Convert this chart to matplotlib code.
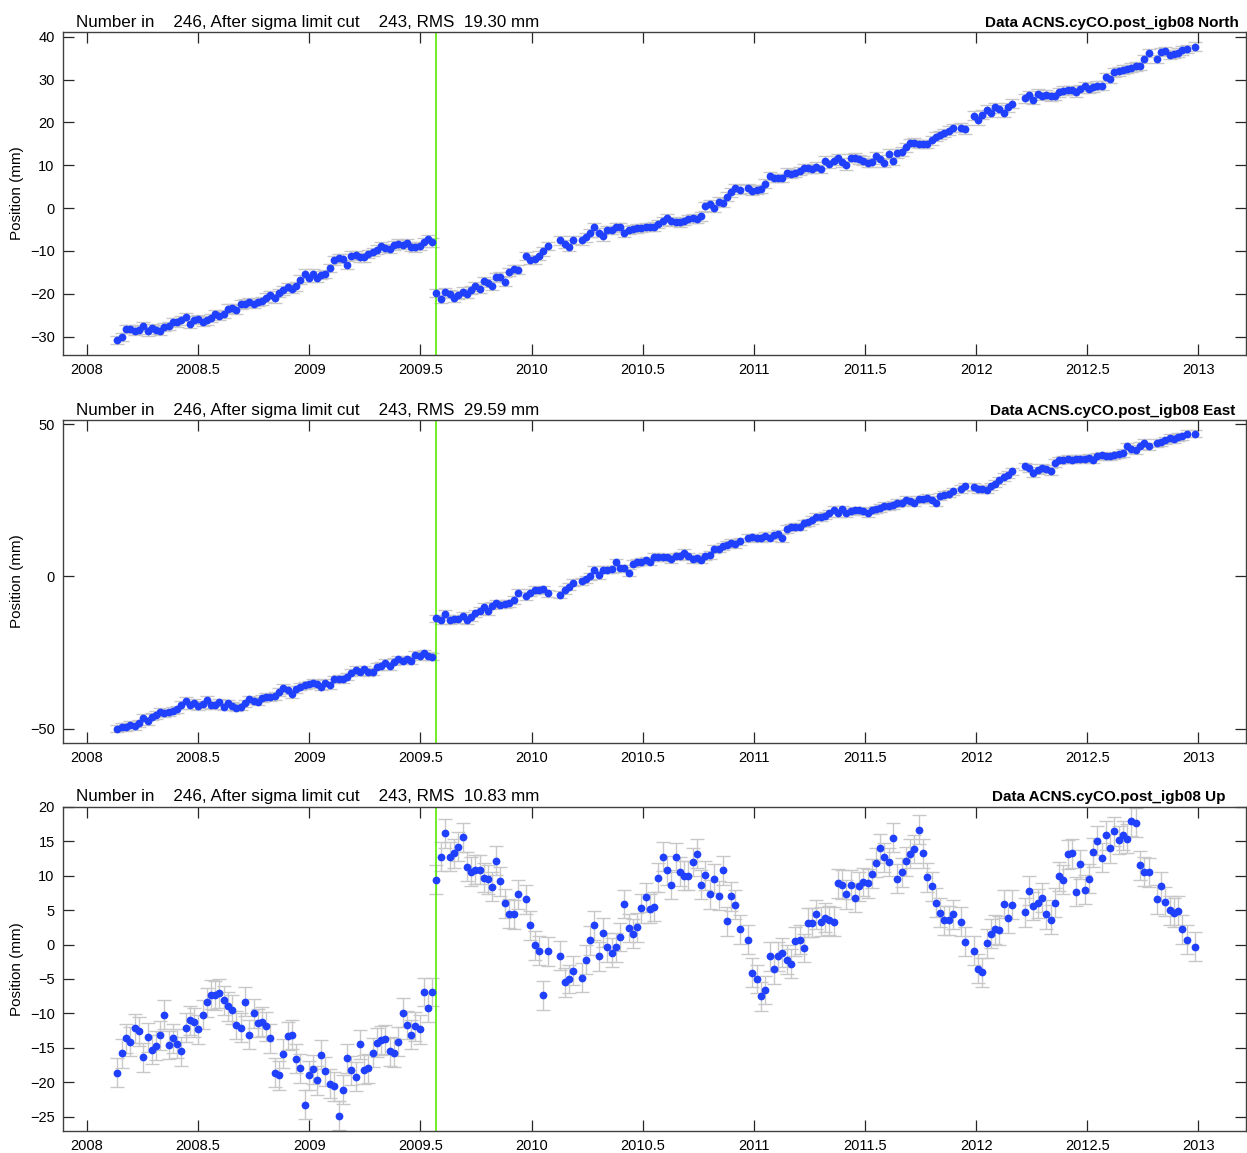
import numpy as np
import matplotlib
matplotlib.use("Agg")
import matplotlib.pyplot as plt

plt.rcParams['font.family'] = ['Liberation Sans', 'DejaVu Sans']

# epochs (decimal year) shared by the three components
epochs = [
    2008.136, 2008.156, 2008.175, 2008.195, 2008.214, 2008.234, 2008.253, 2008.273, 2008.291, 2008.310,
    2008.328, 2008.348, 2008.367, 2008.387, 2008.405, 2008.424, 2008.444, 2008.462, 2008.481, 2008.501,
    2008.520, 2008.538, 2008.556, 2008.576, 2008.595, 2008.615, 2008.634, 2008.654, 2008.672, 2008.691,
    2008.711, 2008.730, 2008.750, 2008.769, 2008.787, 2008.807, 2008.825, 2008.844, 2008.864, 2008.883,
    2008.903, 2008.922, 2008.940, 2008.960, 2008.979, 2008.999, 2009.018, 2009.036, 2009.055, 2009.073,
    2009.093, 2009.112, 2009.132, 2009.151, 2009.169, 2009.189, 2009.208, 2009.228, 2009.246, 2009.265,
    2009.285, 2009.303, 2009.322, 2009.342, 2009.361, 2009.381, 2009.400, 2009.420, 2009.438, 2009.457,
    2009.477, 2009.496, 2009.516, 2009.534, 2009.553,
    2009.571, 2009.591, 2009.612, 2009.631, 2009.651, 2009.670, 2009.690, 2009.708, 2009.727, 2009.747,
    2009.766, 2009.784, 2009.803, 2009.823, 2009.842, 2009.860, 2009.880, 2009.898, 2009.919, 2009.937,
    2009.976, 2009.995, 2010.015, 2010.033, 2010.053, 2010.072, 2010.129, 2010.149, 2010.168, 2010.188,
    2010.225, 2010.245, 2010.264, 2010.282, 2010.302, 2010.321, 2010.341, 2010.360, 2010.380, 2010.398,
    2010.417, 2010.437, 2010.456, 2010.476, 2010.494, 2010.514, 2010.533, 2010.553, 2010.571, 2010.592,
    2010.610, 2010.629, 2010.649, 2010.667, 2010.686, 2010.706, 2010.725, 2010.743, 2010.763, 2010.782,
    2010.802, 2010.821, 2010.841, 2010.859, 2010.878, 2010.898, 2010.917, 2010.937, 2010.974, 2010.993,
    2011.012, 2011.030, 2011.051, 2011.071, 2011.090, 2011.108, 2011.128, 2011.147, 2011.167, 2011.186,
    2011.206, 2011.225, 2011.242, 2011.263, 2011.281, 2011.300, 2011.320, 2011.339, 2011.359, 2011.377,
    2011.398, 2011.416, 2011.436, 2011.454, 2011.473, 2011.493, 2011.512, 2011.530, 2011.549, 2011.569,
    2011.587, 2011.606, 2011.626, 2011.645, 2011.665, 2011.683, 2011.702, 2011.722, 2011.741, 2011.761,
    2011.780, 2011.800, 2011.818, 2011.837, 2011.857, 2011.876, 2011.894, 2011.933, 2011.951, 2011.990,
    2012.008, 2012.028, 2012.047, 2012.067, 2012.086, 2012.104, 2012.124, 2012.143, 2012.161, 2012.220,
    2012.239, 2012.257, 2012.277, 2012.296, 2012.316, 2012.335, 2012.353, 2012.373, 2012.392, 2012.412,
    2012.430, 2012.449, 2012.469, 2012.488, 2012.506, 2012.525, 2012.545, 2012.564, 2012.582, 2012.602,
    2012.621, 2012.641, 2012.659, 2012.678, 2012.698, 2012.717, 2012.737, 2012.756, 2012.776, 2012.813,
    2012.831, 2012.851, 2012.870, 2012.888, 2012.908, 2012.927, 2012.947, 2012.984,
]

north = [
    -30.8, -30.1, -28.2, -28.2, -28.6, -28.4, -27.6, -28.8, -28.0, -28.4,
    -28.6, -27.8, -27.5, -26.6, -26.7, -26.2, -25.4, -27.0, -26.1, -25.9,
    -26.5, -26.2, -25.7, -24.7, -25.1, -24.7, -23.5, -23.3, -23.7, -22.5,
    -22.3, -22.0, -22.3, -21.9, -21.7, -20.9, -20.3, -21.1, -19.8, -19.2,
    -18.4, -18.8, -18.3, -16.7, -15.3, -16.3, -15.3, -16.3, -15.6, -15.4,
    -14.0, -12.2, -11.7, -11.8, -13.3, -11.1, -11.0, -11.5, -11.5, -10.7,
    -10.3, -9.7, -8.9, -9.3, -9.6, -8.7, -8.3, -8.5, -8.2, -9.0,
    -9.2, -8.8, -8.0, -7.2, -8.0,
    -19.8, -21.2, -19.7, -20.1, -20.9, -20.3, -19.5, -20.0, -19.1, -18.3,
    -18.8, -17.0, -17.5, -18.1, -16.2, -16.0, -17.2, -14.9, -14.2, -14.4,
    -11.2, -12.1, -12.0, -11.1, -10.1, -8.9, -7.5, -8.4, -9.1, -7.4,
    -7.5, -6.8, -5.8, -4.5, -5.7, -6.6, -5.1, -5.1, -4.5, -4.4,
    -5.8, -5.1, -4.9, -4.7, -4.6, -4.4, -4.4, -4.3, -3.7, -3.1,
    -2.3, -3.0, -3.2, -3.3, -3.0, -2.5, -2.4, -2.5, -1.9, 0.4,
    1.0, 0.1, 1.5, 1.3, 2.7, 3.7, 4.7, 4.3, 4.6, 4.1,
    4.3, 4.5, 5.7, 7.5, 7.0, 7.0, 7.0, 8.3, 8.0, 8.2,
    8.7, 9.3, 9.3, 9.1, 9.7, 9.1, 11.1, 10.3, 11.1, 11.6,
    10.7, 10.0, 11.7, 11.8, 11.4, 11.1, 10.5, 10.7, 12.1, 11.4,
    10.5, 12.7, 11.0, 12.8, 13.2, 14.2, 15.2, 15.3, 15.0, 15.0,
    15.0, 15.8, 16.7, 17.1, 17.5, 18.1, 18.7, 18.8, 18.4, 21.6,
    20.5, 21.8, 23.0, 22.3, 23.6, 23.1, 22.3, 23.5, 24.4, 25.6,
    26.3, 25.3, 26.7, 26.2, 26.5, 26.1, 26.2, 27.0, 27.4, 27.6,
    27.5, 27.0, 27.8, 28.4, 27.8, 28.2, 28.6, 28.6, 30.6, 30.1,
    31.7, 31.9, 32.3, 32.5, 32.8, 33.1, 33.2, 34.8, 36.2, 34.8,
    36.4, 36.7, 35.8, 36.0, 36.3, 36.8, 37.1, 37.7,
]

east = [
    -50.0, -49.4, -49.4, -48.7, -49.2, -48.2, -46.4, -47.5, -46.1, -45.5,
    -44.5, -45.0, -44.6, -44.1, -43.6, -42.2, -40.8, -42.2, -41.4, -42.5,
    -42.0, -40.6, -42.2, -42.2, -41.3, -42.8, -41.7, -42.5, -43.1, -42.8,
    -41.7, -40.4, -40.8, -41.1, -40.0, -39.5, -39.7, -39.3, -37.9, -36.6,
    -37.3, -38.6, -37.1, -36.2, -35.7, -35.4, -34.9, -35.3, -36.2, -34.9,
    -35.7, -33.8, -33.6, -33.7, -32.9, -31.6, -30.7, -31.3, -30.5, -31.4,
    -31.3, -29.6, -29.4, -28.3, -29.4, -28.0, -27.2, -27.6, -27.2, -27.6,
    -25.7, -26.1, -25.2, -26.1, -26.3,
    -13.7, -14.3, -12.3, -14.3, -14.0, -14.0, -12.9, -14.3, -13.4, -12.1,
    -11.2, -9.9, -11.5, -9.6, -8.8, -9.3, -9.0, -8.8, -7.7, -5.3,
    -6.4, -5.3, -4.4, -4.6, -4.2, -5.5, -6.0, -4.4, -3.3, -2.0,
    -1.6, -0.9, 0.0, 2.2, 0.5, 2.2, 2.2, 2.4, 4.6, 2.7,
    2.7, 1.3, 4.2, 4.6, 4.9, 5.3, 4.9, 6.4, 6.4, 6.3,
    6.3, 5.7, 6.6, 6.8, 7.7, 6.6, 5.7, 6.0, 5.5, 6.6,
    7.1, 9.0, 9.1, 9.9, 10.4, 11.0, 10.7, 11.5, 12.6, 12.9,
    12.8, 12.6, 13.4, 12.8, 13.5, 14.0, 12.6, 15.6, 16.2, 16.4,
    16.4, 17.5, 17.8, 18.6, 19.5, 19.4, 20.0, 20.8, 21.9, 20.8,
    22.1, 20.8, 21.4, 21.7, 21.7, 21.4, 20.8, 21.7, 22.1, 22.5,
    23.2, 23.0, 23.5, 24.1, 24.3, 25.2, 24.7, 24.3, 25.4, 25.4,
    25.8, 25.2, 24.3, 26.3, 26.9, 27.2, 28.0, 28.7, 29.6, 29.4,
    28.7, 28.7, 28.5, 29.6, 30.5, 31.6, 32.7, 33.4, 34.5, 36.2,
    35.6, 34.0, 34.9, 35.6, 35.3, 34.5, 37.3, 38.2, 38.4, 38.6,
    38.4, 38.6, 38.7, 38.6, 39.0, 38.4, 39.5, 39.8, 39.5, 39.5,
    39.8, 40.1, 40.6, 42.8, 41.9, 41.4, 43.0, 43.9, 42.8, 43.9,
    44.1, 44.7, 45.5, 45.2, 45.8, 46.1, 46.9, 46.9,
]

up = [
    -18.6, -15.8, -13.6, -14.1, -12.2, -12.6, -16.4, -13.5, -15.3, -14.7,
    -13.2, -10.2, -14.6, -13.6, -14.4, -15.5, -12.1, -11.0, -11.3, -12.3,
    -10.2, -8.4, -7.3, -7.4, -7.1, -8.1, -9.0, -9.5, -11.7, -12.1,
    -8.3, -13.1, -10.0, -11.4, -11.2, -11.9, -13.6, -18.6, -19.0, -15.9,
    -13.3, -13.1, -16.6, -18.0, -23.3, -19.0, -18.1, -19.7, -16.0, -18.4,
    -20.2, -20.6, -24.9, -21.1, -16.5, -18.3, -19.2, -14.5, -18.2, -18.0,
    -15.7, -14.3, -13.9, -13.8, -15.5, -15.7, -14.1, -9.9, -11.7, -13.1,
    -11.9, -12.3, -6.9, -9.2, -6.9,
    9.4, 12.8, 16.2, 12.8, 13.3, 14.2, 15.6, 11.3, 10.6, 10.9,
    10.9, 9.7, 9.5, 8.4, 12.2, 9.2, 6.0, 4.5, 4.4, 7.3,
    6.6, 2.8, -0.1, -0.9, -7.4, -1.0, -1.6, -5.5, -5.0, -3.8,
    -4.8, -2.2, 0.6, 2.8, -1.7, 1.7, -0.4, -1.2, -0.4, 1.1,
    5.9, 2.4, 1.6, 2.5, 5.3, 6.9, 5.2, 5.5, 9.7, 12.8,
    10.8, 8.7, 12.7, 10.6, 10.0, 10.0, 12.0, 13.2, 8.7, 10.1,
    7.3, 9.6, 7.1, 10.8, 3.4, 7.0, 5.8, 2.2, 0.7, -4.1,
    -5.0, -7.5, -6.6, -1.7, -3.6, -1.7, -1.2, -2.2, -2.8, 0.5,
    0.7, -0.5, 3.2, 3.2, 4.4, 3.3, 3.9, 3.5, 3.3, 8.9,
    8.7, 7.3, 8.7, 6.8, 8.5, 9.1, 8.9, 10.3, 11.9, 14.0,
    12.7, 12.0, 15.5, 9.6, 10.5, 12.1, 13.2, 13.9, 16.7, 13.3,
    9.8, 8.5, 6.1, 4.6, 3.5, 3.5, 4.4, 3.3, 0.4, -0.9,
    -3.5, -4.0, 0.2, 1.6, 2.2, 2.1, 5.9, 3.8, 5.8, 4.7,
    7.8, 5.6, 6.0, 6.8, 4.4, 3.6, 6.1, 9.9, 9.4, 13.1,
    13.3, 7.7, 11.7, 8.0, 9.6, 13.4, 15.1, 12.6, 15.9, 14.0,
    16.5, 15.2, 15.9, 15.4, 17.9, 17.7, 11.5, 10.6, 10.5, 6.6,
    8.5, 6.2, 5.0, 4.6, 4.9, 2.2, 0.7, -0.3,
]

# one-sigma error bar sizes (mm)
sig_north = 1.0
sig_east = 1.2
sig_up = 2.1

break_epoch = 2009.570
components = ['North', 'East', 'Up']
rms_values = ['19.30', '29.59', '10.83']
n_in = 246
n_cut = 243
y_ticks = [np.arange(-30, 41, 10), [-50, 0, 50], np.arange(-25, 21, 5)]
y_lims = [(-34.3, 41.1), (-54.7, 51.4), (-27.1, 20.0)]
x_ticks = [2008, 2008.5, 2009, 2009.5, 2010, 2010.5, 2011, 2011.5, 2012, 2012.5, 2013]
x_labels = ['2008', '2008.5', '2009', '2009.5', '2010', '2010.5', '2011', '2011.5', '2012', '2012.5', '2013']

series = [north, east, up]
sigmas = [sig_north, sig_east, sig_up]

fig = plt.figure(figsize=(12.47, 11.53), dpi=100)
boxes = [
    [0.0505, 0.6921, 0.9487, 0.2801],
    [0.0505, 0.3556, 0.9487, 0.2801],
    [0.0505, 0.0191, 0.9487, 0.2810],
]
right_x = [0.994, 0.9907, 0.983]

t = np.array(epochs)
for i in range(3):
    ax = fig.add_axes(boxes[i])
    vals = np.array(series[i])
    ax.errorbar(t, vals, yerr=sigmas[i], fmt='none', ecolor='#c8c8c8',
                elinewidth=1.0, capsize=5, capthick=1.0, zorder=1)
    ax.plot(t, vals, 'o', color='#2040ff', markersize=5.6, markeredgewidth=0, zorder=3)
    ax.axvline(break_epoch, color='#55ee00', linewidth=1.2, zorder=2)

    ax.set_xlim(2007.892, 2013.214)
    ax.set_ylim(*y_lims[i])
    ax.set_xticks(x_ticks)
    ax.set_xticklabels(x_labels)
    ax.set_yticks(y_ticks[i])
    ax.tick_params(direction='in', length=8, width=0.9, top=True, right=True,
                   labelsize=10.5, pad=6, colors='#262626', labelcolor='black')
    for sp in ax.spines.values():
        sp.set_color('#404040')
        sp.set_linewidth(1.0)

    ax.set_ylabel('Position (mm)', fontsize=11)
    ax.yaxis.set_label_coords(-0.033, 0.5)

    ax.text(0.011, 1.017,
            'Number in    %d, After sigma limit cut    %d, RMS  %s mm' % (n_in, n_cut, rms_values[i]),
            transform=ax.transAxes, ha='left', va='baseline', fontsize=12.25)
    ax.text(right_x[i], 1.017, 'Data ACNS.cyCO.post_igb08 %s' % components[i],
            transform=ax.transAxes, ha='right', va='baseline', fontsize=11, fontweight='bold')

fig.savefig('out.png', dpi=100)
